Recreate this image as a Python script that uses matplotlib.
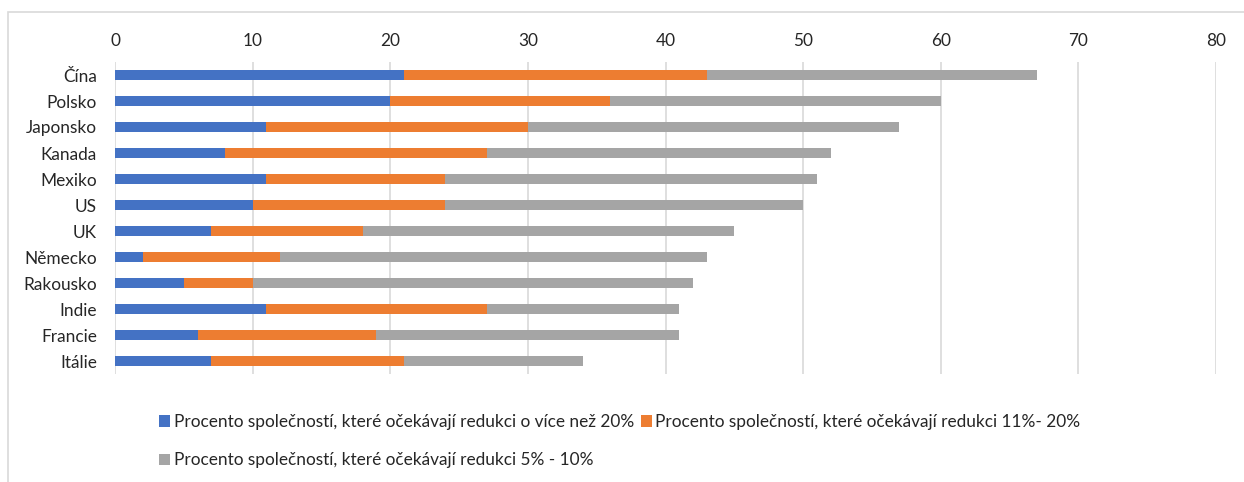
import matplotlib.pyplot as plt
from matplotlib.patches import Rectangle

countries = ['Čína', 'Polsko', 'Japonsko', 'Kanada', 'Mexiko', 'US', 'UK',
             'Německo', 'Rakousko', 'Indie', 'Francie', 'Itálie']
over_20 = [21, 20, 11, 8, 11, 10, 7, 2, 5, 11, 6, 7]
from_11_to_20 = [22, 16, 19, 19, 13, 14, 11, 10, 5, 16, 13, 14]
from_5_to_10 = [24, 24, 27, 25, 27, 26, 27, 31, 32, 14, 22, 13]

series_labels = [
    'Procento společností, které očekávají redukci o více než 20%',
    'Procento společností, které očekávají redukci 11%- 20%',
    'Procento společností, které očekávají redukci 5% - 10%',
]
colors = ['#4472C4', '#ED7D31', '#A5A5A5']

plt.rcParams['font.family'] = ['Lato', 'DejaVu Sans']
text_color = '#262626'
fs = 12.4

fig = plt.figure(figsize=(12.44, 4.82), dpi=100)
ax = fig.add_axes([115 / 1244, 1 - 374 / 482, 1101 / 1244, 312 / 482])

ypos = range(len(countries))
left = [0] * len(countries)
handles = []
for vals, color, label in zip([over_20, from_11_to_20, from_5_to_10], colors, series_labels):
    h = ax.barh(ypos, vals, left=left, height=0.4, color=color, label=label, zorder=3)
    handles.append(h)
    left = [a + b for a, b in zip(left, vals)]

ax.set_xlim(0, 80)
ax.set_xticks(range(0, 81, 10))
ax.set_ylim(len(countries) - 0.5, -0.5)
ax.set_yticks(list(ypos))
ax.set_yticklabels(countries)
ax.xaxis.tick_top()
ax.tick_params(axis='both', length=0, labelsize=fs, colors=text_color)
ax.tick_params(axis='x', pad=9)
ax.tick_params(axis='y', pad=13)
ax.grid(axis='x', color='#d9d9d9', linewidth=1.2, zorder=0)
for s in ax.spines.values():
    s.set_visible(False)

# outer chart frame
fig.patches.append(Rectangle((8 / 1244, -0.1), 1.2, 1 - 12 / 482 + 0.1,
                             transform=fig.transFigure, fill=False,
                             edgecolor='#d9d9d9', linewidth=1.2))

order = [0, 2, 1]
leg = fig.legend([handles[i] for i in order], [series_labels[i] for i in order],
                 ncol=2, loc='upper left', bbox_to_anchor=(159 / 1244, 1 - 414 / 482),
                 frameon=False, fontsize=fs, handlelength=0.65, handleheight=0.65,
                 handletextpad=0.2, columnspacing=0.4, labelspacing=1.3,
                 borderpad=0, borderaxespad=0)
for t in leg.get_texts():
    t.set_color(text_color)

fig.savefig('out.png', dpi=100)
